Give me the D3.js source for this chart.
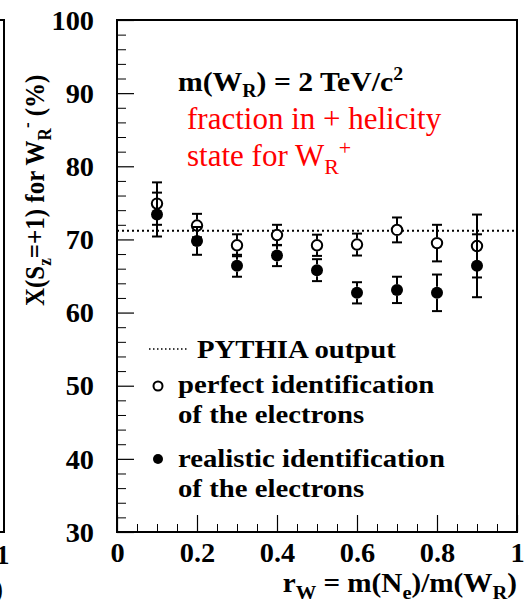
<!DOCTYPE html>
<html><head><meta charset="utf-8">
<script src="https://cdn.jsdelivr.net/npm/d3@7"></script>
<style>body{margin:0;background:#fff}svg{display:block}</style>
</head><body>
<svg id="c" width="528" height="609"></svg>
<script>
// ---- data ----
const rW = [0.1, 0.2, 0.3, 0.4, 0.5, 0.6, 0.7, 0.8, 0.9];
const perfect = [74.9, 71.9, 69.2, 70.6, 69.2, 69.3, 71.3, 69.5, 69.1];
const perfectErr = [2.9, 1.6, 1.5, 1.4, 1.45, 1.5, 1.7, 2.5, 4.3];
const realistic = [73.4, 69.8, 66.4, 67.8, 65.8, 62.7, 63.1, 62.7, 66.4];
const realisticErr = [3.0, 1.9, 1.5, 1.45, 1.5, 1.45, 1.8, 2.5, 4.3];
const pythia = 71.2;
const xTicks = [0, 0.2, 0.4, 0.6, 0.8, 1];
const xTickLabels = ["0", "0.2", "0.4", "0.6", "0.8", "1"];
const yTicks = [30, 40, 50, 60, 70, 80, 90, 100];

const svg = d3.select("#c");
const L = 117, R = 517, T = 20, B = 532;
const x = d3.scaleLinear().domain([0, 1]).range([L, R]);
const y = d3.scaleLinear().domain([30, 100]).range([B, T]);

function stretch(sel, sx) {
  sel.each(function () {
    const e = d3.select(this), x0 = +e.attr("x") || 0;
    e.attr("transform", `translate(${x0},0) scale(${sx},1) translate(${-x0},0)`);
  });
  return sel;
}

// neighbour panel fragment
svg.append("path").attr("d", `M0,${T}H4V${B}H0`).attr("fill", "none").attr("stroke", "#000").attr("stroke-width", 2);
svg.append("text").attr("x", -4).attr("y", 564).attr("font-weight", "bold").attr("font-size", 27).text("1");
svg.append("text").attr("x", -6).attr("y", 598).attr("font-weight", "bold").attr("font-size", 27).text(")");

// minor ticks
const yMinor = d3.range(30, 100.01, 2).filter(v => v % 10 !== 0);
const xMinor = d3.range(0, 1.001, 0.05).filter(v => Math.abs(v * 5 - Math.round(v * 5)) > 1e-6);
const gYm = svg.append("g").attr("transform", `translate(${L},0)`)
  .call(d3.axisLeft(y).tickValues(yMinor).tickSize(-9).tickFormat(""));
const gXm = svg.append("g").attr("transform", `translate(0,${B})`)
  .call(d3.axisBottom(x).tickValues(xMinor).tickSize(-8).tickFormat(""));
[gYm, gXm].forEach(g => { g.select(".domain").remove(); g.selectAll("line").attr("stroke", "#000").attr("stroke-width", 1); });

// major ticks + labels
const gY = svg.append("g").attr("transform", `translate(${L},0)`)
  .call(d3.axisLeft(y).tickValues(yTicks).tickSize(-17).tickPadding(10).tickFormat(d3.format("d")));
const gX = svg.append("g").attr("transform", `translate(0,${B})`)
  .call(d3.axisBottom(x).tickValues(xTicks).tickSize(-17).tickPadding(11).tickFormat((d, i) => xTickLabels[i]));
[gY, gX].forEach(g => {
  g.select(".domain").remove();
  g.selectAll("line").attr("stroke", "#000").attr("stroke-width", 1.2);
  g.selectAll("text").attr("font-weight", "bold").attr("font-size", 27).attr("fill", "#000");
});
gY.selectAll("text").attr("x", -23).attr("dy", "0.34em");
stretch(gY.selectAll("text"), 1.05);
stretch(gX.selectAll("text"), 1.05);

// frame
svg.append("rect").attr("x", L).attr("y", T).attr("width", R - L).attr("height", B - T)
  .attr("fill", "none").attr("stroke", "#000").attr("stroke-width", 2);

// PYTHIA dotted line
svg.append("line").attr("x1", L).attr("x2", R).attr("y1", y(pythia)).attr("y2", y(pythia))
  .attr("stroke", "#000").attr("stroke-width", 2).attr("stroke-dasharray", "2,3");

// error bars + markers
const rM = 6, cap = 5;
function drawSeries(vals, errs, open) {
  const g = svg.append("g");
  vals.forEach((v, i) => {
    const cx = x(rW[i]), cy = y(v), yt = y(v + errs[i]), yb = y(v - errs[i]);
    const s = g.append("g").attr("stroke", "#000").attr("stroke-width", 2);
    s.append("line").attr("x1", cx).attr("x2", cx).attr("y1", yt).attr("y2", cy - rM);
    s.append("line").attr("x1", cx).attr("x2", cx).attr("y1", cy + rM).attr("y2", yb);
    s.append("line").attr("x1", cx - cap).attr("x2", cx + cap).attr("y1", yt).attr("y2", yt);
    s.append("line").attr("x1", cx - cap).attr("x2", cx + cap).attr("y1", yb).attr("y2", yb);
    g.append("circle").attr("cx", cx).attr("cy", cy).attr("r", open ? rM - 0.8 : rM)
      .attr("fill", open ? "#fff" : "#000").attr("stroke", "#000").attr("stroke-width", open ? 2 : 0);
  });
}
drawSeries(perfect, perfectErr, true);
drawSeries(realistic, realisticErr, false);

// texts
function txt(xp, yp, size, bold, color) {
  return svg.append("text").attr("x", xp).attr("y", yp)
    .attr("font-size", size).attr("font-weight", bold ? "bold" : "normal").attr("fill", color || "#000");
}
let t = txt(178, 91, 27, true);
t.append("tspan").text("m(W");
t.append("tspan").attr("dy", 6).attr("font-size", 18).text("R");
t.append("tspan").attr("dy", -6).text(") = 2 TeV/c");
t.append("tspan").attr("dy", -11).attr("font-size", 18).text("2");
stretch(t, 1.1);

txt(187, 129, 31, false, "#f00").text("fraction in + helicity");
t = txt(187, 166, 31, false, "#f00");
t.append("tspan").text("state for W");
t.append("tspan").attr("dy", 8).attr("font-size", 22).text("R");
t.append("tspan").attr("dy", -19).attr("font-size", 22).text("+");

// legend
svg.append("line").attr("x1", 149).attr("x2", 187).attr("y1", 349).attr("y2", 349)
  .attr("stroke", "#000").attr("stroke-width", 1.5).attr("stroke-dasharray", "1.5,2.5");
const legTexts = [
  [197, 358, "PYTHIA output"],
  [178, 393, "perfect identification"],
  [178, 423, "of the electrons"],
  [178, 467, "realistic identification"],
  [178, 497, "of the electrons"]
];
legTexts.forEach(d => stretch(txt(d[0], d[1], 25, true).text(d[2]), 1.15));
svg.append("circle").attr("cx", 158).attr("cy", 386).attr("r", 4.5).attr("fill", "#fff").attr("stroke", "#000").attr("stroke-width", 2);
svg.append("circle").attr("cx", 158).attr("cy", 459).attr("r", 5).attr("fill", "#000");

// x axis title
t = txt(517, 592, 27, true).attr("text-anchor", "end");
t.append("tspan").text("r");
t.append("tspan").attr("dy", 7).attr("font-size", 19).text("W");
t.append("tspan").attr("dy", -7).text(" = m(N");
t.append("tspan").attr("dy", 7).attr("font-size", 19).text("e");
t.append("tspan").attr("dy", -7).text(")/m(W");
t.append("tspan").attr("dy", 7).attr("font-size", 19).text("R");
t.append("tspan").attr("dy", -7).text(")");
stretch(t, 1.08);

// y axis title
t = svg.append("text").attr("transform", "translate(44,306) scale(1.1,1) rotate(-90)")
  .attr("font-weight", "bold").attr("font-size", 25).attr("text-anchor", "start");
t.append("tspan").text("X(S");
t.append("tspan").attr("dy", 6).attr("font-size", 17).text("z");
t.append("tspan").attr("dy", -6).text("=+1) for W");
t.append("tspan").attr("dy", 6).attr("font-size", 17).text("R");
t.append("tspan").attr("dy", -16).attr("font-size", 17).text("-");
t.append("tspan").attr("dy", 10).text(" (%)");

// serif font everywhere (inline style)
svg.selectAll("text").style("font-family", "Liberation Serif");
</script>
</body></html>
